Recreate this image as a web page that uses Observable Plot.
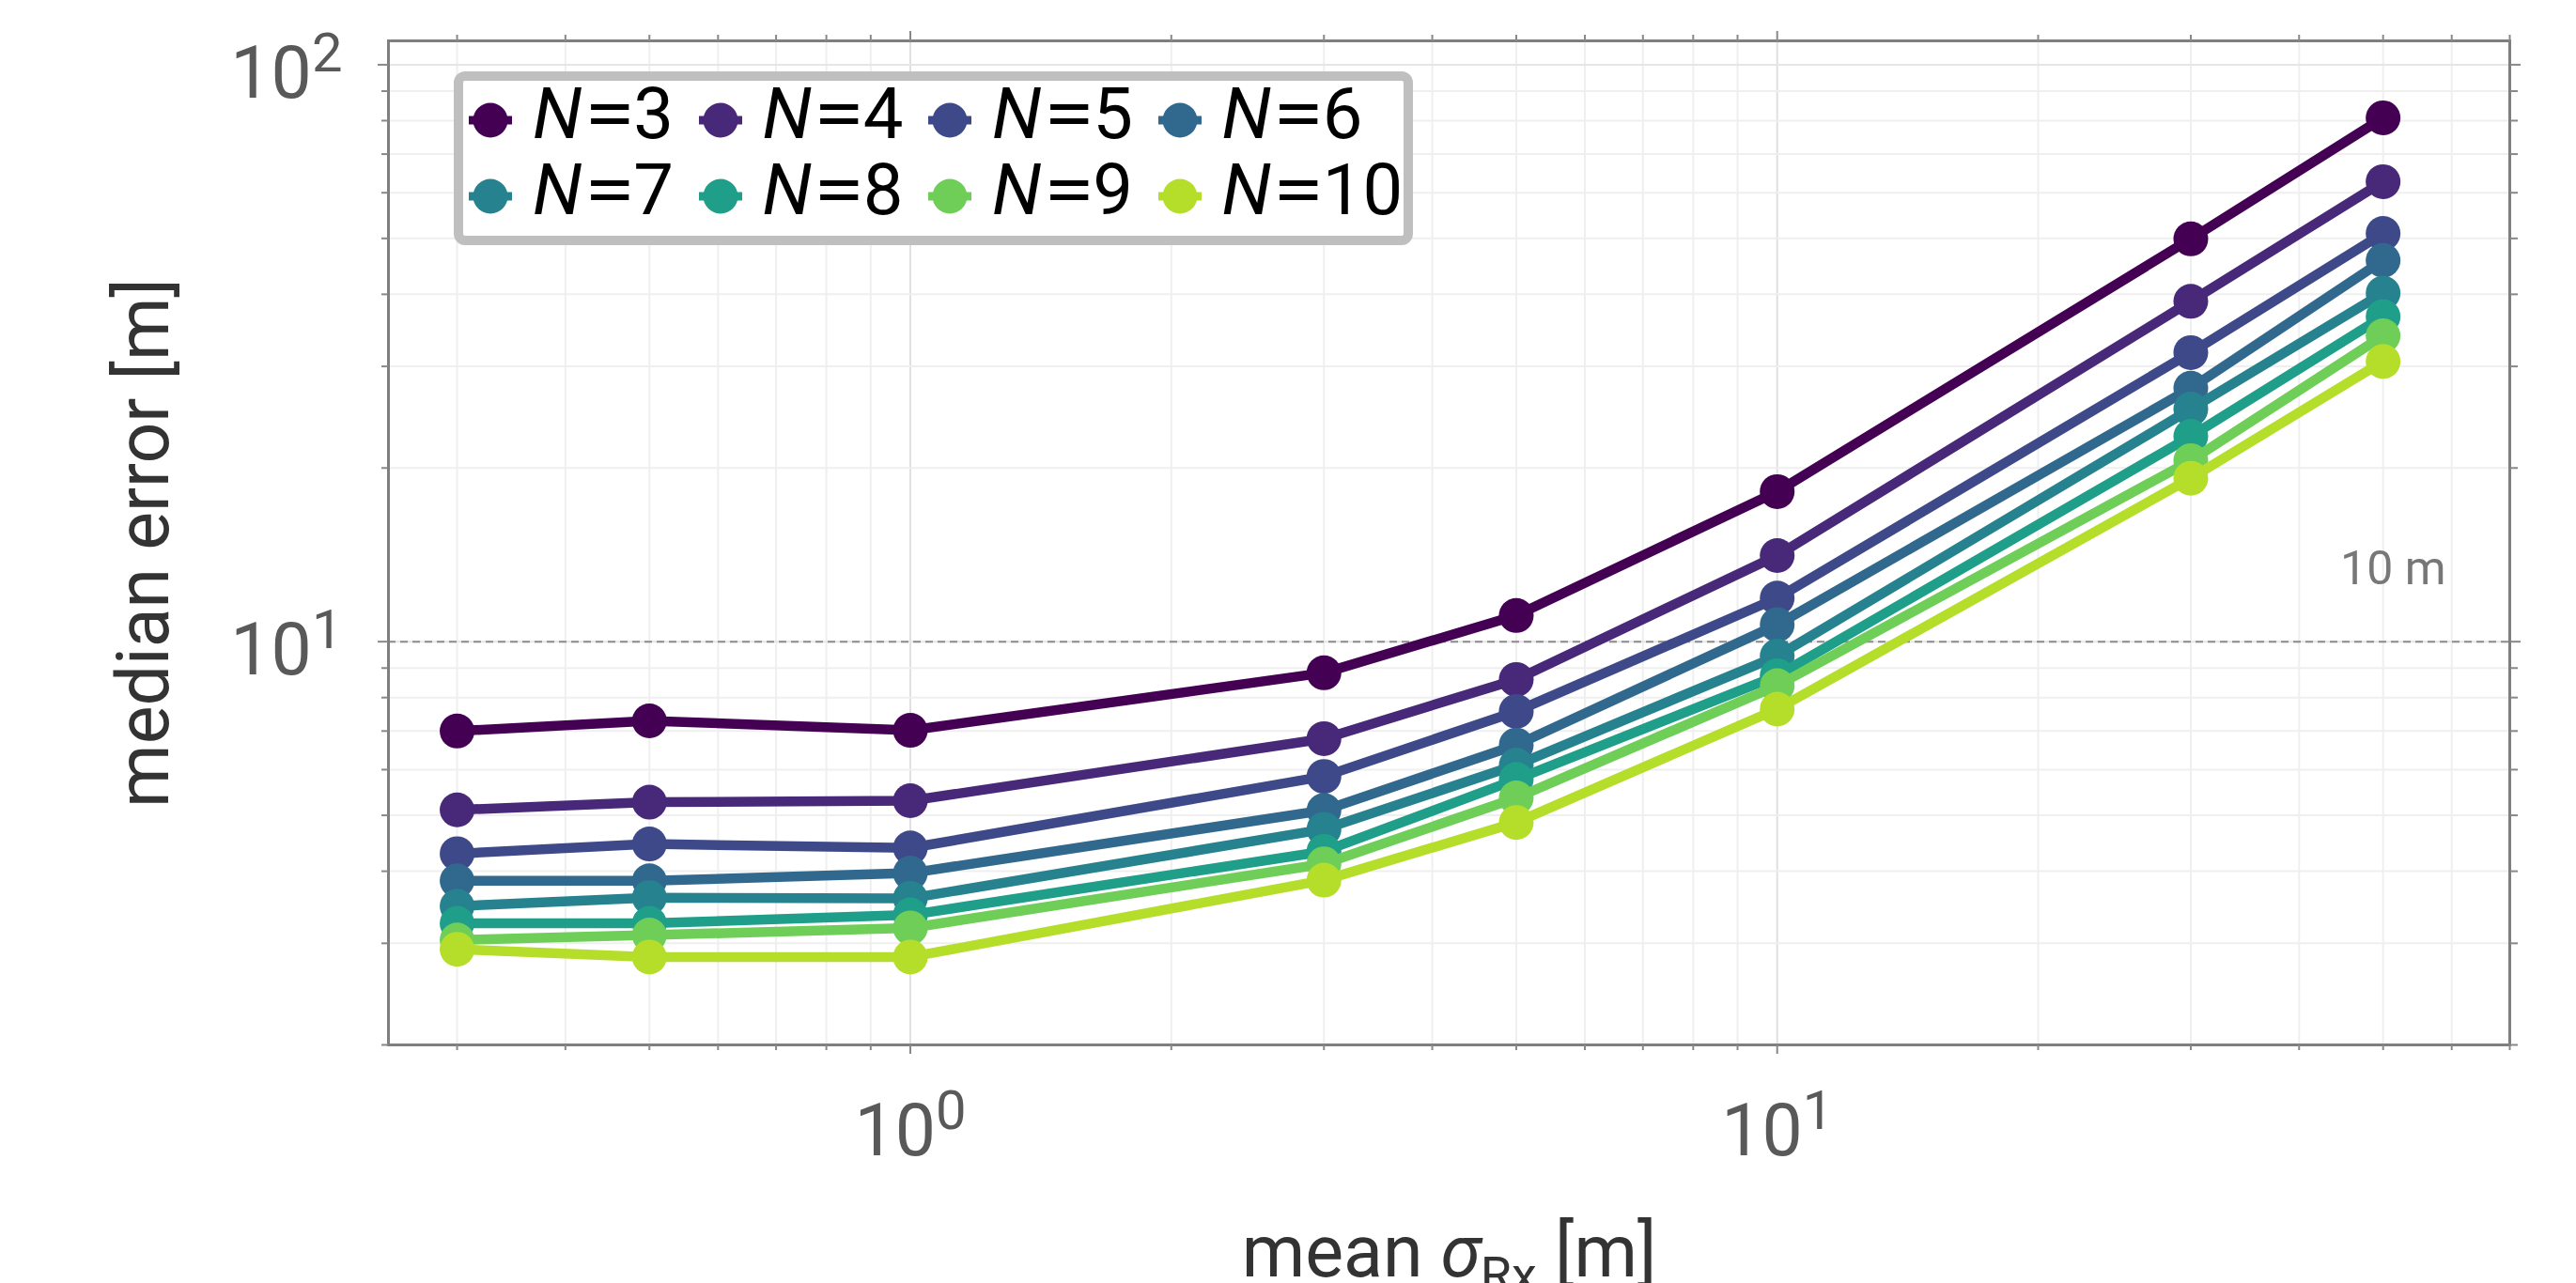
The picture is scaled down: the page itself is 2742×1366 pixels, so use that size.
<!DOCTYPE html>
<html><head><meta charset="utf-8">
<script src="https://cdn.jsdelivr.net/npm/d3@7"></script>
<script src="https://cdn.jsdelivr.net/npm/@observablehq/plot@0.6"></script>
<style>
html,body{margin:0;padding:0;background:#fff;}
#wrap{position:relative;width:2742px;height:1366px;overflow:hidden;font-family:Roboto,sans-serif;}
#legend{position:absolute;left:483px;top:76px;width:1021px;height:185px;box-sizing:border-box;border:10px solid #bfbfbf;border-radius:12px;background:#fff;display:grid;grid-template-columns:repeat(4,244.5px);grid-auto-rows:81px;padding:1.5px 0 0 6px;}
.item{display:flex;align-items:center;}
.item svg{flex:none;}
.lab{font-size:76px;line-height:1;color:#000;margin-left:22px;position:relative;top:-7px;white-space:nowrap;}
.lab i{font-style:italic;}
.eq{display:inline-block;transform:scaleX(1.3);margin:0 5px 0 8px;}
</style></head><body>
<div id="wrap"></div>
<script>
// ---- data ----
const sigmaRx = [0.3, 0.5, 1, 3, 5, 10, 30, 50];
const nValues = [3, 4, 5, 6, 7, 8, 9, 10];
const errN3  = [7.00, 7.29, 7.02, 8.83, 11.1, 18.2, 49.9, 80.9];
const errN4  = [5.11, 5.27, 5.30, 6.79, 8.60, 14.1, 38.9, 62.7];
const errN5  = [4.29, 4.46, 4.39, 5.84, 7.57, 11.9, 31.7, 51.0];
const errN6  = [3.85, 3.85, 3.97, 5.10, 6.62, 10.7, 27.5, 45.8];
const errN7  = [3.48, 3.60, 3.59, 4.73, 6.11, 9.44, 25.3, 40.2];
const errN8  = [3.25, 3.25, 3.36, 4.33, 5.77, 8.73, 22.7, 36.6];
const errN9  = [3.04, 3.10, 3.19, 4.12, 5.36, 8.39, 20.6, 33.9];
const errN10 = [2.93, 2.84, 2.84, 3.86, 4.86, 7.64, 19.2, 30.6];
const errSeries = [errN3, errN4, errN5, errN6, errN7, errN8, errN9, errN10];
const seriesColors = ["#440154", "#482878", "#3e4989", "#31688e", "#26828e", "#1f9e89", "#6ece58", "#b5de2b"];

const xMajorTicks = [1, 10];
const xTickLabels = ["10^0", "10^1"];
const xMinorTicks = [0.3, 0.4, 0.5, 0.6, 0.7, 0.8, 0.9, 2, 3, 4, 5, 6, 7, 8, 9, 20, 30, 40, 50, 60, 70];
const yMajorTicks = [10, 100];
const yTickLabels = ["10^1", "10^2"];
const yMinorTicks = [2, 3, 4, 5, 6, 7, 8, 9, 20, 30, 40, 50, 60, 70, 80, 90];
const refValue = 10;
const refLabel = "10 m";
const xTitle = "mean σRx [m]";
const yTitle = "median error [m]";

// ---- table ----
const rows = nValues.flatMap((n, i) => sigmaRx.map((s, j) => ({n, sigma: s, err: errSeries[i][j]})));

const seriesMarks = nValues.flatMap(n => {
  const d = rows.filter(r => r.n === n);
  return [
    Plot.line(d, {x: "sigma", y: "err", stroke: "n", strokeWidth: 10.5}),
    Plot.dot(d, {x: "sigma", y: "err", fill: "n", r: 18.5})
  ];
});

const tickStyle = {stroke: "#888", strokeWidth: 2, strokeOpacity: 1, tickFormat: () => "", label: null};

const svg = Plot.plot({
  width: 2742, height: 1366,
  marginLeft: 413, marginRight: 71, marginTop: 43, marginBottom: 254,
  style: {fontFamily: "Roboto, sans-serif", background: "#fff", overflow: "visible"},
  x: {type: "log", domain: [0.25, 70]},
  y: {type: "log", domain: [2, 110]},
  color: {domain: nValues, range: seriesColors},
  marks: [
    Plot.gridX(xMinorTicks, {stroke: "#efefef", strokeOpacity: 1, strokeWidth: 2}),
    Plot.gridX(xMajorTicks, {stroke: "#e0e0e0", strokeOpacity: 1, strokeWidth: 2}),
    Plot.gridY(yMinorTicks, {stroke: "#efefef", strokeOpacity: 1, strokeWidth: 2}),
    Plot.gridY(yMajorTicks, {stroke: "#e6e6e6", strokeOpacity: 1, strokeWidth: 2}),
    Plot.ruleY([refValue], {stroke: "#8c8c8c", strokeWidth: 2, strokeDasharray: "8,5"}),
    Plot.text([refLabel], {frameAnchor: "right", y: () => refValue, dx: -68, dy: -61, lineAnchor: "bottom", textAnchor: "end", fontSize: 50, fill: "#777"}),
    ...seriesMarks,
    Plot.frame({stroke: "#7f7f7f", strokeWidth: 3}),
    // ticks
    Plot.axisX(xMinorTicks, {anchor: "bottom", tickSize: 6, ...tickStyle}),
    Plot.axisX(xMajorTicks, {anchor: "bottom", tickSize: 10, ...tickStyle}),
    Plot.axisX(xMinorTicks, {anchor: "top", tickSize: 7, ...tickStyle}),
    Plot.axisX(xMajorTicks, {anchor: "top", tickSize: 11, ...tickStyle}),
    Plot.axisY(yMinorTicks, {anchor: "left", tickSize: 7, ...tickStyle}),
    Plot.axisY(yMajorTicks, {anchor: "left", tickSize: 11, ...tickStyle}),
    Plot.axisY(yMinorTicks, {anchor: "right", tickSize: 8, ...tickStyle}),
    Plot.axisY(yMajorTicks, {anchor: "right", tickSize: 11, ...tickStyle}),
    // tick labels
    Plot.axisX(xMajorTicks, {anchor: "bottom", tickSize: 0, tickPadding: 63, fontSize: 77, fill: "#595959",
      tickFormat: d => xTickLabels[xMajorTicks.indexOf(d)], label: null}),
    Plot.axisY(yMajorTicks, {anchor: "left", tickSize: 0, tickPadding: 49, dy: 10, fontSize: 77, fill: "#595959",
      tickFormat: d => yTickLabels[yMajorTicks.indexOf(d)], label: null}),
    // axis titles
    Plot.text([xTitle], {frameAnchor: "bottom", dy: 246, lineAnchor: "bottom", fontSize: 77, fill: "#333"}),
    Plot.text([yTitle], {frameAnchor: "left", dx: -235, rotate: -90, textAnchor: "middle", lineAnchor: "bottom", fontSize: 77, fill: "#333"})
  ]
});

// superscripts / subscripts as real text
const NS = "http://www.w3.org/2000/svg";
function tspan(parent, str, attrs = {}) {
  const t = document.createElementNS(NS, "tspan");
  for (const k in attrs) t.setAttribute(k, attrs[k]);
  t.textContent = str;
  parent.appendChild(t);
  return t;
}
svg.querySelectorAll("text").forEach(t => {
  const s = t.textContent;
  if (s.includes("^")) {
    const [base, exp] = s.split("^");
    t.textContent = "";
    tspan(t, base);
    tspan(t, exp, {"font-size": "58px", dy: "-28"});
  } else if (s === xTitle) {
    t.textContent = "";
    tspan(t, "mean ");
    tspan(t, "σ", {"font-style": "italic"});
    tspan(t, "Rx", {"font-size": "54px", dy: "17"});
    tspan(t, " [m]", {dy: "-17"});
  }
});

const wrap = document.getElementById("wrap");
wrap.appendChild(svg);

// legend
const legend = document.createElement("div");
legend.id = "legend";
nValues.forEach((n, i) => {
  const item = document.createElement("div");
  item.className = "item";
  const c = seriesColors[i];
  item.innerHTML = `<svg width="46" height="40"><line x1="0" x2="46" y1="20" y2="20" stroke="${c}" stroke-width="9"/><circle cx="23" cy="20" r="18.5" fill="${c}"/></svg>` +
    `<span class="lab"><i>N</i><span class="eq">=</span>${n}</span>`;
  legend.appendChild(item);
});
wrap.appendChild(legend);
</script>
</body></html>
